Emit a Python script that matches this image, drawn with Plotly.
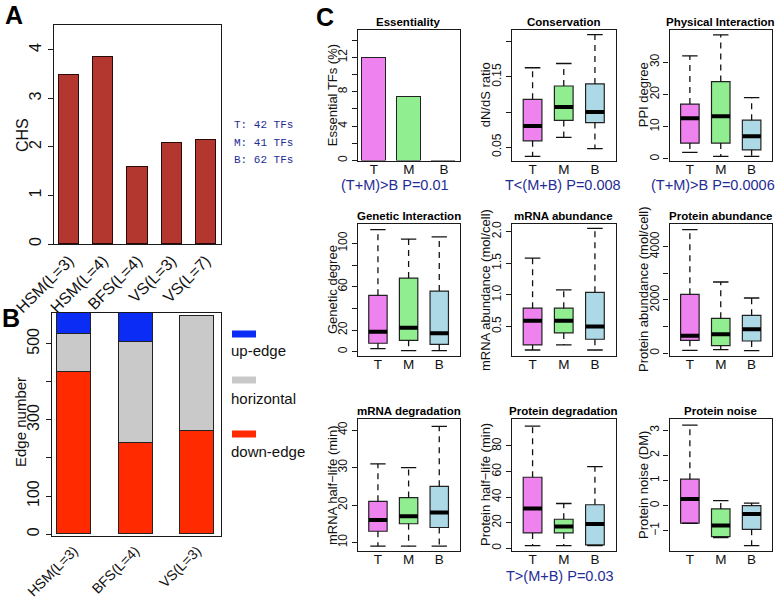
import plotly.graph_objects as go

W, H = 778, 600
FONT = "Liberation Sans, Arial, Helvetica, sans-serif"
MONO = "Liberation Mono, Courier New, monospace"
BLUE_TXT = "#1f2d96"
INK = "#1a1a1a"

# ---------------- data ----------------
# Panel A
chs_methods = ["HSM(L=3)", "HSM(L=4)", "BFS(L=4)", "VS(L=3)", "VS(L=7)"]
chs_values = [3.48, 3.86, 1.58, 2.09, 2.14]
chs_ticks = [0, 1, 2, 3, 4]

tf_counts = ["T: 42 TFs", "M: 41 TFs", "B: 62 TFs"]

# Panel B
edge_methods = ["HSM(L=3)", "BFS(L=4)", "VS(L=3)"]
down_edges = [425, 240, 272]
horizontal_edges = [101, 266, 302]
up_edges = [70, 90, 0]
edge_tickvals = [0, 100, 200, 300, 400, 500, 600]
edge_ticktext = ["0", "100", "", "300", "", "500", ""]
edge_legend = ["up-edge", "horizontal", "down-edge"]

# Panel C
groups = ["T", "M", "B"]
group_colors = ["#EE82EE", "#90EE90", "#ADD8E6"]

essential_pct = [11.9, 7.4, 0.0]
ess_tickvals = [0, 2, 4, 6, 8, 10, 12, 14]
ess_ticktext = ["0", "", "4", "", "8", "", "12", ""]

# box statistics per group: [lower whisker, Q1, median, Q3, upper whisker]
conservation = [[0.037, 0.059, 0.080, 0.118, 0.163],
                [0.064, 0.088, 0.107, 0.137, 0.169],
                [0.048, 0.085, 0.100, 0.140, 0.210]]
cons_tickvals = [0.05, 0.10, 0.15, 0.20]
cons_ticktext = ["0.05", "", "0.15", ""]

ppi_degree = [[2.0, 4.9, 12.6, 17.0, 32.0],
              [0.8, 4.9, 13.2, 24.0, 38.5],
              [0.8, 2.8, 7.0, 12.0, 19.0]]
ppi_tickvals = [0, 10, 20, 30]
ppi_ticktext = ["0", "10", "20", "30"]

genetic_degree = [[2.8, 7.8, 18.5, 52.0, 112.6],
                  [1.0, 10.5, 22.0, 68.0, 104.0],
                  [1.0, 6.8, 17.0, 56.0, 106.0]]
gen_tickvals = [0, 20, 40, 60, 80, 100]
gen_ticktext = ["0", "20", "", "60", "", "100"]

mrna_abundance = [[0.13, 0.21, 0.59, 0.79, 1.58],
                  [0.21, 0.40, 0.59, 0.79, 1.08],
                  [0.13, 0.30, 0.50, 1.04, 2.05]]
mab_tickvals = [0.5, 1.0, 1.5, 2.0]
mab_ticktext = ["0.5", "1.0", "1.5", "2.0"]

protein_abundance = [[112, 487, 660, 2212, 4635],
                     [135, 285, 712, 1312, 2674],
                     [97, 461, 900, 1425, 2074]]
pab_tickvals = [0, 1000, 2000, 3000, 4000]
pab_ticktext = ["0", "", "2000", "", "4000"]

mrna_halflife = [[9, 13, 16, 21, 31],
                 [9, 15, 17, 22, 30],
                 [9, 14, 18, 25, 41]]
mhl_tickvals = [10, 20, 30, 40]
mhl_ticktext = ["10", "20", "30", "40"]

protein_halflife = [[2, 12, 31, 55.5, 95.5],
                    [2, 12, 17, 22.7, 35],
                    [2, 2.6, 19, 34, 63.8]]
phl_tickvals = [0, 20, 40, 60, 80]
phl_ticktext = ["0", "20", "40", "60", "80"]

protein_noise = [[-0.70, -0.70, 0.26, 1.05, 3.2],
                 [-1.27, -1.23, -0.79, -0.13, 0.2],
                 [-1.59, -0.94, -0.33, 0.0, 0.1]]
noise_tickvals = [-1, 0, 1, 2, 3]
noise_ticktext = ["\u22121", "0", "1", "2", "3"]

# ---------------- layout helpers ----------------
def xd(x0, x1):
    return [x0 / W, x1 / W]


def yd(y0, y1):
    return [1 - y1 / H, 1 - y0 / H]


def yaxis_style(tickvals, ticktext, rng, size=12):
    return dict(showline=True, mirror=True, linecolor=INK, linewidth=1.3,
                zeroline=False, showgrid=False, ticks="outside", ticklen=5,
                tickwidth=1.1, tickcolor=INK, tickvals=tickvals, ticktext=ticktext,
                tickangle=-90, range=rng, automargin=False,
                tickfont=dict(family=FONT, size=size, color="#111"))


def xaxis_style(tickvals, ticktext, rng, size=14, angle=0, standoff=0):
    return dict(showline=True, mirror=True, linecolor=INK, linewidth=1.3,
                zeroline=False, showgrid=False, ticks="", tickvals=tickvals,
                ticktext=ticktext, range=rng, tickangle=angle, automargin=False,
                ticklabelstandoff=standoff,
                tickfont=dict(family=FONT, size=size, color="#111"))


fig = go.Figure()
layout = {}
annotations = []
shapes = []


def ann(text, px, py, size, color="#111", bold=False, angle=0, family=FONT,
        xanchor="center"):
    if bold:
        text = "<b>" + text + "</b>"
    annotations.append(dict(text=text, x=px / W, y=1 - py / H, xref="paper",
                            yref="paper", showarrow=False, textangle=angle,
                            xanchor=xanchor, yanchor="middle",
                            font=dict(family=family, size=size, color=color)))


# ---------------- Panel A ----------------
fig.add_trace(go.Bar(x=list(range(len(chs_methods))), y=chs_values, width=0.59,
                     marker=dict(color="#B3372F", line=dict(color="#2a0a08", width=1)),
                     xaxis="x", yaxis="y", showlegend=False))
layout["xaxis"] = dict(domain=xd(54, 221), anchor="y",
                       **xaxis_style(list(range(len(chs_methods))), chs_methods,
                                     [-0.44, 4.44], size=16, angle=-45))
layout["yaxis"] = dict(domain=yd(25, 244), anchor="x",
                       **yaxis_style(chs_ticks, [str(v) for v in chs_ticks], [0, 4.515], size=16))
ann("CHS", 22, 135, 16, angle=-90)
ann("A", 14, 15, 25, bold=True, color="#000")
for i, t in enumerate(tf_counts):
    ann(t, 232, 125 + 17.5 * i, 11, color=BLUE_TXT, family=MONO, xanchor="left")

# ---------------- Panel B ----------------
xs_b = list(range(len(edge_methods)))
for vals, col in [(down_edges, "#FF2A00"), (horizontal_edges, "#C9C9C9"), (up_edges, "#0A2CF5")]:
    fig.add_trace(go.Bar(x=xs_b, y=vals, width=0.55,
                         marker=dict(color=col, line=dict(color="#222", width=1)),
                         xaxis="x2", yaxis="y2", showlegend=False))
layout["xaxis2"] = dict(domain=xd(51.7, 221), anchor="y2",
                        **xaxis_style(xs_b, edge_methods, [-0.36, 2.39], size=14, angle=-45))
layout["yaxis2"] = dict(domain=yd(313, 536), anchor="x2",
                        **yaxis_style(edge_tickvals, edge_ticktext, [-5, 581], size=16))
ann("Edge number", 20, 422, 15, angle=-90)
ann("B", 11, 318, 25, bold=True, color="#000")
# legend
legend_cols = ["#0A2CF5", "#C9C9C9", "#FF2A00"]
legend_sw_y = [334, 380, 434]
legend_txt_y = [350, 398, 451]
for lab, col, sy, ty in zip(edge_legend, legend_cols, legend_sw_y, legend_txt_y):
    shapes.append(dict(type="rect", xref="paper", yref="paper",
                       x0=232 / W, x1=256 / W, y0=1 - (sy + 3.5) / H, y1=1 - (sy - 3.5) / H,
                       fillcolor=col, line=dict(width=0)))
    ann(lab, 229, ty, 15, xanchor="left")

# ---------------- Panel C ----------------
col_x = [(357.7, 459.5), (512.0, 615.5), (669.5, 772.0)]
row_y = [(30, 160.5), (224.3, 355.7), (419.3, 550.7)]

panels = [
    ("Essentiality", "Essential TFs (%)", None, ess_tickvals, ess_ticktext, [0, 15.2]),
    ("Conservation", "dN/dS ratio", conservation, cons_tickvals, cons_ticktext, [0.031, 0.2167]),
    ("Physical Interaction", "PPI degree", ppi_degree, ppi_tickvals, ppi_ticktext, [-0.5, 40.0]),
    ("Genetic Interaction", "Genetic degree", genetic_degree, gen_tickvals, gen_ticktext, [-3.7, 117.6]),
    ("mRNA abundance", "mRNA abundance (mol/cell)", mrna_abundance, mab_tickvals, mab_ticktext, [0.04, 2.115]),
    ("Protein abundance", "Protein abundance (mol/cell)", protein_abundance, pab_tickvals, pab_ticktext, [-90, 4837]),
    ("mRNA degradation", "mRNA half\u2212life (min)", mrna_halflife, mhl_tickvals, mhl_ticktext, [7.8, 42.9]),
    ("Protein degradation", "Protein half\u2212life (min)", protein_halflife, phl_tickvals, phl_ticktext, [-1.9, 100.8]),
    ("Protein noise", "Protein noise (DM)", protein_noise, noise_tickvals, noise_ticktext, [-1.79, 3.43]),
]
pvalues = {0: "(T+M)>B P=0.01", 1: "T<(M+B) P=0.008", 2: "(T+M)>B P=0.0006",
           7: "T>(M+B) P=0.03"}
pvalue_x = {0: 395, 1: 563, 2: 713, 7: 560}
ytitle_x = [332, 485, 643]

xs = list(range(len(groups)))
for k, (title, ytitle, stats, tv, tt, yr) in enumerate(panels):
    r, c = divmod(k, 3)
    n = k + 3
    xa, ya = "x%d" % n, "y%d" % n
    x0, x1 = col_x[c]
    y0, y1 = row_y[r]
    if stats is None:
        fig.add_trace(go.Bar(x=xs, y=essential_pct, width=0.69,
                             marker=dict(color=group_colors, line=dict(color="#222", width=1)),
                             xaxis=xa, yaxis=ya, showlegend=False))
        xr = [-0.46, 2.44]
    else:
        xr = [-0.66, 2.66]
        for i, s in enumerate(stats):
            lo, q1, med, q3, hi = s
            # dashed whiskers
            fig.add_trace(go.Scatter(x=[i, i, None, i, i], y=[q3, hi, None, q1, lo],
                                     mode="lines", line=dict(color="#111", width=1.3, dash="6px,5px"),
                                     xaxis=xa, yaxis=ya, showlegend=False, hoverinfo="skip"))
            # staples
            fig.add_trace(go.Scatter(x=[i - 0.25, i + 0.25, None, i - 0.25, i + 0.25],
                                     y=[hi, hi, None, lo, lo], mode="lines",
                                     line=dict(color="#111", width=1.3),
                                     xaxis=xa, yaxis=ya, showlegend=False, hoverinfo="skip"))
            # box
            fig.add_trace(go.Box(x=[i], q1=[q1], median=[med], q3=[q3],
                                 lowerfence=[q1], upperfence=[q3], width=0.6,
                                 fillcolor=group_colors[i], line=dict(color="#222", width=1.2),
                                 boxpoints=False, xaxis=xa, yaxis=ya, showlegend=False))
            # thick median
            fig.add_trace(go.Scatter(x=[i - 0.3, i + 0.3], y=[med, med], mode="lines",
                                     line=dict(color="#000", width=4),
                                     xaxis=xa, yaxis=ya, showlegend=False, hoverinfo="skip"))
    layout["xaxis%d" % n] = dict(domain=xd(x0, x1), anchor=ya,
                                 **xaxis_style(xs, groups, xr, size=13.5, standoff=-4))
    layout["yaxis%d" % n] = dict(domain=yd(y0, y1), anchor=xa,
                                 **yaxis_style(tv, tt, yr, size=12))
    ann(title, (x0 + x1) / 2, y0 - 8, 11.5, bold=True, color="#000")
    ann(ytitle, ytitle_x[c], (y0 + y1) / 2, 13, angle=-90)
    if k in pvalues:
        ann(pvalues[k], pvalue_x[k], y1 + 25, 14.5, color=BLUE_TXT)

ann("C", 325, 17, 25, bold=True, color="#000")

fig.update_layout(width=W, height=H, margin=dict(l=0, r=0, t=0, b=0, autoexpand=False),
                  paper_bgcolor="white", plot_bgcolor="white",
                  barmode="stack", bargap=0, showlegend=False,
                  annotations=annotations, shapes=shapes, **layout)

fig.write_html("out.html", config={"displayModeBar": False},
               post_script="document.body.style.margin='0';document.body.style.overflow='hidden';")
